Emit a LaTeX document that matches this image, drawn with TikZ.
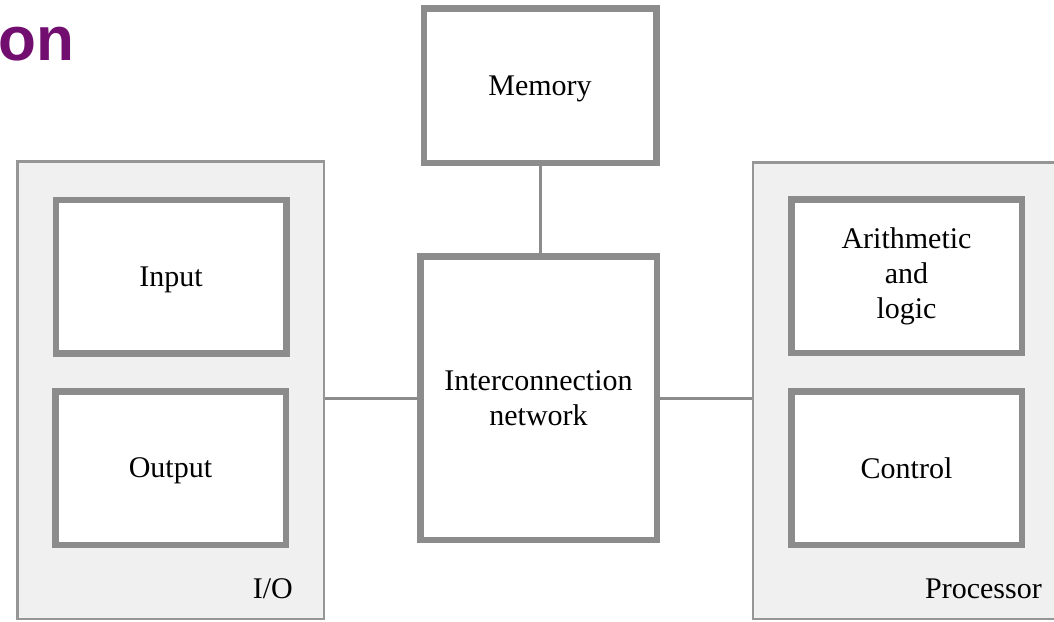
\documentclass[tikz,border=0pt]{standalone}
\usepackage{fontspec}
\setmainfont{Liberation Serif}
\newfontfamily\titlefont{Liberation Sans}
\definecolor{boxgray}{RGB}{140,140,140}
\definecolor{panelfill}{RGB}{240,240,240}
\definecolor{paneledge}{RGB}{150,150,150}
\definecolor{titlepurple}{RGB}{114,14,112}
\begin{document}
\begin{tikzpicture}[x=1pt,y=-1pt,
  unitbox/.style={draw=boxgray, line width=6.5pt, fill=white, minimum width=230.5pt, minimum height=153.5pt, align=center, font=\fontsize{30}{35}\selectfont, inner sep=0pt},
  oneline/.style={text depth=0pt},
  panel/.style={draw=paneledge, line width=2.5pt, fill=panelfill, inner sep=0pt},
  link/.style={draw=boxgray, line width=3pt},
  paneltext/.style={anchor=base east, inner sep=0pt, font=\fontsize{30}{35}\selectfont}]
\useasboundingbox (0,0) rectangle (1054,621);
\fill[white] (0,0) rectangle (1054,621);
% panels
\node[panel, minimum width=306.5pt, minimum height=457.5pt] (iopanel) at (170.5,390) {};
\node[panel, minimum width=311.75pt, minimum height=456.5pt] (procpanel) at (909.1,390.5) {};
% units
\node[unitbox, oneline] (input) at (171,276.5) {Input};
\node[unitbox, oneline] (output) at (170.5,468) {Output};
\node[unitbox] (arith) at (906.5,276) {Arithmetic\\and\\logic};
\node[unitbox, oneline] (control) at (906.5,468) {Control};
\node[unitbox, oneline, minimum width=232.5pt, minimum height=154.5pt] (mem) at (540,85.5) {Memory};
\node[unitbox, minimum width=236.5pt, minimum height=283.5pt] (net) at (538.5,398) {Interconnection\\network};
% connectors
\draw[link] (net.west) -- (net.west -| iopanel.east);
\draw[link] (net.east) -- (net.east -| procpanel.west);
\draw[link] (mem.south) -- (mem.south |- net.north);
% labels
\node[paneltext] (iolabel) at (293,598) {I/O};
\node[paneltext] (proclabel) at (1042,598) {Processor};
% title fragment
\node[anchor=base west, inner sep=0pt, text=titlepurple, font=\titlefont\bfseries\fontsize{62}{62}\selectfont] (title) at (-2,60) {on};
\end{tikzpicture}
\end{document}
